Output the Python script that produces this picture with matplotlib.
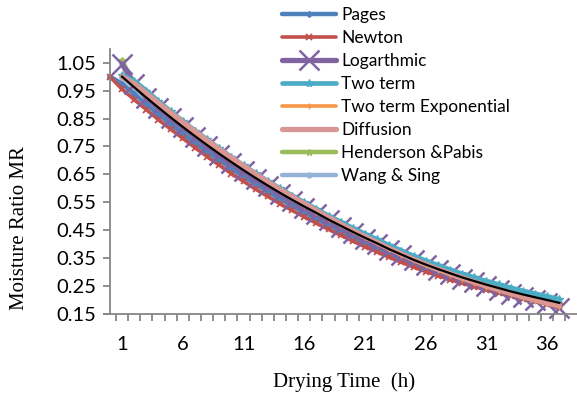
import matplotlib
matplotlib.use('Agg')
import matplotlib.pyplot as plt
from matplotlib.font_manager import FontProperties

# ---------------- data ----------------
hours_obs = list(range(1, 38))          # categories 1..37
hours_0 = list(range(0, 38))            # categories 0..37

observed = [1.000, 0.962, 0.925, 0.889, 0.854, 0.820, 0.787, 0.755, 0.724, 0.694,
            0.665, 0.637, 0.610, 0.584, 0.559, 0.535, 0.512, 0.488, 0.466, 0.444,
            0.423, 0.403, 0.382, 0.363, 0.344, 0.327, 0.311, 0.296, 0.281, 0.268,
            0.255, 0.243, 0.231, 0.220, 0.210, 0.200, 0.190]

pages = [1.000, 0.975, 0.938, 0.901, 0.865, 0.830, 0.796, 0.763, 0.731, 0.701,
         0.671, 0.642, 0.615, 0.588, 0.562, 0.538, 0.514, 0.491, 0.468, 0.446,
         0.425, 0.405, 0.385, 0.366, 0.348, 0.330, 0.314, 0.298, 0.284, 0.270,
         0.258, 0.245, 0.234, 0.222, 0.211, 0.201, 0.192, 0.182]

newton = [1.000, 0.955, 0.918, 0.882, 0.846, 0.812, 0.779, 0.746, 0.714, 0.683,
          0.653, 0.625, 0.597, 0.571, 0.545, 0.521, 0.498, 0.475, 0.453, 0.432,
          0.411, 0.391, 0.372, 0.353, 0.335, 0.318, 0.302, 0.287, 0.273, 0.260,
          0.248, 0.236, 0.225, 0.214, 0.204, 0.195, 0.186, 0.177]

logarithmic = [1.045, 0.975, 0.925, 0.888, 0.852, 0.818, 0.785, 0.752, 0.721, 0.691,
               0.662, 0.634, 0.607, 0.581, 0.556, 0.531, 0.508, 0.485, 0.462, 0.441,
               0.420, 0.400, 0.380, 0.361, 0.342, 0.325, 0.308, 0.292, 0.277, 0.263,
               0.249, 0.236, 0.223, 0.211, 0.200, 0.189, 0.172]

two_term = [1.005, 0.985, 0.950, 0.912, 0.876, 0.841, 0.807, 0.775, 0.743, 0.712,
            0.682, 0.654, 0.626, 0.600, 0.574, 0.550, 0.526, 0.502, 0.480, 0.458,
            0.437, 0.417, 0.396, 0.377, 0.358, 0.341, 0.325, 0.309, 0.294, 0.281,
            0.268, 0.256, 0.244, 0.233, 0.223, 0.213, 0.203]

two_term_exp = [1.000, 0.968, 0.932, 0.897, 0.862, 0.828, 0.795, 0.763, 0.732, 0.702,
                0.673, 0.644, 0.617, 0.591, 0.565, 0.540, 0.516, 0.492, 0.469, 0.446,
                0.424, 0.403, 0.382, 0.362, 0.342, 0.324, 0.307, 0.291, 0.275, 0.261,
                0.247, 0.234, 0.221, 0.209, 0.197, 0.186, 0.176]

diffusion = [1.000, 0.975, 0.940, 0.905, 0.871, 0.837, 0.804, 0.772, 0.740, 0.710,
             0.680, 0.651, 0.623, 0.596, 0.570, 0.545, 0.520, 0.496, 0.472, 0.449,
             0.427, 0.406, 0.385, 0.365, 0.346, 0.328, 0.311, 0.295, 0.280, 0.265,
             0.251, 0.238, 0.225, 0.213, 0.202, 0.191, 0.181]

henderson = [1.058, 0.975, 0.930, 0.893, 0.858, 0.824, 0.790, 0.758, 0.727, 0.697,
             0.668, 0.640, 0.613, 0.587, 0.562, 0.537, 0.514, 0.490, 0.468, 0.446,
             0.425, 0.405, 0.385, 0.365, 0.347, 0.330, 0.313, 0.298, 0.283, 0.269,
             0.256, 0.244, 0.232, 0.221, 0.210, 0.200, 0.190]

wang_sing = [1.000, 0.960, 0.922, 0.886, 0.851, 0.817, 0.784, 0.752, 0.721, 0.691,
             0.662, 0.634, 0.607, 0.581, 0.556, 0.532, 0.509, 0.486, 0.464, 0.442,
             0.421, 0.401, 0.381, 0.361, 0.343, 0.326, 0.310, 0.294, 0.280, 0.266,
             0.253, 0.241, 0.229, 0.218, 0.208, 0.198, 0.188]

xtick_values = [1, 6, 11, 16, 21, 26, 31, 36]
xtick_labels = ['1', '6', '11', '16', '21', '26', '31', '36']
ytick_values = [0.15, 0.25, 0.35, 0.45, 0.55, 0.65, 0.75, 0.85, 0.95, 1.05]
ytick_labels = ['0.15', '0.25', '0.35', '0.45', '0.55', '0.65', '0.75', '0.85', '0.95', '1.05']

# ---------------- figure ----------------
fig = plt.figure(figsize=(5.77, 3.94), dpi=100)
ax = fig.add_axes([0.1799, 0.2030, 0.8211, 0.6734])

ax.set_xlim(-0.5, 38.5)
ax.set_ylim(0.15, 1.10)

common = dict(clip_on=False, solid_capstyle='round')
h_wang, = ax.plot(hours_obs, wang_sing, color='#95B3D7', lw=3.2, marker='o', ms=3.5,
                  mec='#95B3D7', zorder=2.0, label='Wang & Sing', **common)
h_hend, = ax.plot(hours_obs, henderson, color='#9BBB59', lw=3.2, marker='*', ms=5,
                  mec='#9BBB59', zorder=2.1, label='Henderson &Pabis', **common)
h_pages, = ax.plot(hours_0, pages, color='#4F81BD', lw=3.2, marker='D', ms=3,
                   mec='#4F81BD', zorder=2.2, label='Pages', **common)
h_newton, = ax.plot(hours_0, newton, color='#C0504D', lw=2.6, marker='x', ms=4.5, mew=1.3,
                    mec='#C0504D', zorder=2.3, label='Newton', **common)
h_log, = ax.plot(hours_obs, logarithmic, color='#8064A2', lw=3.8, marker='x', ms=14, mew=1.8,
                 mec='#8064A2', zorder=2.4, label='Logarthmic', **common)
h_two, = ax.plot(hours_obs, two_term, color='#4BACC6', lw=3.4, marker='*', ms=6,
                 mec='#4BACC6', zorder=2.5, label='Two term', **common)
h_tte, = ax.plot(hours_obs, two_term_exp, color='#F79646', lw=2.6, marker='+', ms=4,
                 mec='#F79646', zorder=2.6, label='Two term Exponential', **common)
h_diff, = ax.plot(hours_obs, diffusion, color='#D99694', lw=3.8,
                  zorder=2.7, label='Diffusion', **common)
ax.plot(hours_obs, observed, color='black', lw=1.6, zorder=3, clip_on=False)

# axes styling
axis_col = '#868686'
for s in ['top', 'right']:
    ax.spines[s].set_visible(False)
ax.spines['left'].set_position(('data', 0))
ax.spines['left'].set_color(axis_col)
ax.spines['bottom'].set_color(axis_col)
ax.spines['left'].set_linewidth(1.3)
ax.spines['bottom'].set_linewidth(1.3)

tick_font = FontProperties(family='Lato', size=14.5)
ax.set_xticks(xtick_values)
ax.set_xticklabels(xtick_labels, fontproperties=tick_font)
ax.set_xticks([i + 0.5 for i in range(0, 39)], minor=True)
ax.tick_params(axis='x', which='major', length=0, pad=16, colors='black')
ax.tick_params(axis='x', which='minor', length=5, width=1.3, color=axis_col, direction='out')

ax.set_yticks(ytick_values)
ax.set_yticklabels(ytick_labels, fontproperties=tick_font)
ax.tick_params(axis='y', which='major', length=5, width=1.3, color=axis_col,
               direction='out', pad=4.5, labelcolor='black')

label_font = FontProperties(family='Liberation Serif', size=15)
fig.text(0.597, 1 - 381.7 / 394, 'Drying Time  (h)', ha='center', va='center',
         fontproperties=label_font)
fig.text(19.3 / 577, 1 - 228.4 / 394, 'Moisture Ratio MR', ha='center', va='center',
         rotation=90, fontproperties=label_font)

handles = [h_pages, h_newton, h_log, h_two, h_tte, h_diff, h_hend, h_wang]
labels = [h.get_label() for h in handles]
fig.legend(handles, labels, loc='upper left', bbox_to_anchor=(282 / 577, 1 - 7 / 394),
           bbox_transform=fig.transFigure, frameon=False,
           prop=FontProperties(family='Lato', size=12.5), handlelength=3.1,
           handletextpad=0.3, labelspacing=0.40, borderpad=0, borderaxespad=0,
           numpoints=1)

fig.savefig('out.png', dpi=100)
